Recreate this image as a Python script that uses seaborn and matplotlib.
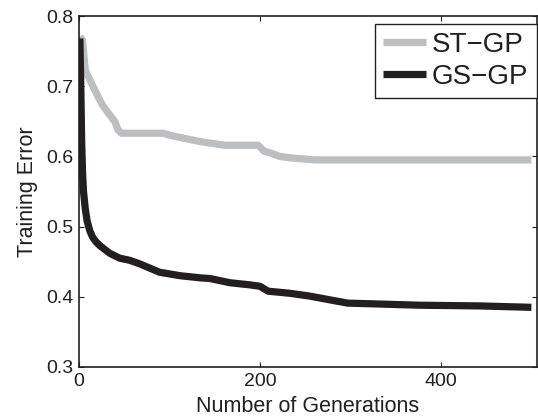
import pandas as pd
import matplotlib
matplotlib.use('Agg')
import matplotlib.pyplot as plt
import seaborn as sns

# ST-GP (grey) training error per generation
st_gen = [1, 4, 7, 12, 20, 26, 34, 40, 43, 47, 93, 101, 134, 161, 198, 205, 209, 222, 233, 261, 500]
st_err = [0.771, 0.765, 0.723, 0.709, 0.688, 0.673, 0.659, 0.649, 0.638, 0.633, 0.633, 0.630,
          0.621, 0.616, 0.616, 0.607, 0.606, 0.600, 0.598, 0.595, 0.595]

# GS-GP (black)
gs_gen = [1, 2, 3, 4, 5, 7, 9, 12, 15, 19, 23, 34, 45, 56, 67, 78, 89, 112, 134, 145, 167, 189,
          200, 209, 233, 255, 280, 297, 377, 443, 500]
gs_err = [0.768, 0.70, 0.62, 0.575, 0.55, 0.525, 0.508, 0.494, 0.485, 0.478, 0.473, 0.462, 0.455,
          0.452, 0.447, 0.441, 0.435, 0.430, 0.427, 0.426, 0.420, 0.417, 0.415, 0.408, 0.405,
          0.401, 0.395, 0.391, 0.388, 0.387, 0.385]

labels = ['ST\u2212GP', 'GS\u2212GP']
colors = ['#bdbec1', '#231f20']

df = pd.concat([
    pd.DataFrame({'gen': st_gen, 'err': st_err, 'method': labels[0]}),
    pd.DataFrame({'gen': gs_gen, 'err': gs_err, 'method': labels[1]}),
])

sns.set_style('ticks')
plt.rcParams['font.family'] = ['Liberation Sans', 'DejaVu Sans']
ink = '#231f20'

fig = plt.figure(figsize=(5.38, 4.16), dpi=100)
ax = fig.add_axes([0.1468, 0.1178, 0.851, 0.8437])

sns.lineplot(data=df, x='gen', y='err', hue='method', palette=colors,
             linewidth=5.2, ax=ax, sort=False, estimator=None)
for ln in ax.get_lines():
    ln.set_solid_capstyle('butt')
    ln.set_solid_joinstyle('round')

ax.set_xlim(0, 506)
ax.set_ylim(0.3, 0.8)
ax.set_xticks([0, 200, 400])
ax.set_yticks([0.3, 0.4, 0.5, 0.6, 0.7, 0.8])
ax.set_yticklabels(['0.3', '0.4', '0.5', '0.6', '0.7', '0.8'])
ax.tick_params(direction='in', length=3.5, width=0.8, top=True, right=True,
               labelsize=14, colors=ink, pad=4)
for s in ax.spines.values():
    s.set_visible(True)
    s.set_linewidth(1.2)
    s.set_color(ink)

ax.set_xlabel('Number of Generations', fontsize=15.5, color=ink, labelpad=5)
ax.set_ylabel('Training Error', fontsize=15.5, color=ink, labelpad=6)

leg = ax.legend(loc='upper right', bbox_to_anchor=(1.0, 0.978), fontsize=20,
                frameon=True, fancybox=False,
                handlelength=1.55, handletextpad=0.2, borderpad=0.3,
                labelspacing=0.2, borderaxespad=0.0, edgecolor=ink)
leg.get_frame().set_linewidth(1.0)
leg.get_frame().set_alpha(1)
for h in leg.get_lines():
    h.set_linewidth(5.2)
for t in leg.get_texts():
    t.set_color(ink)

fig.savefig('out.png', dpi=100)
